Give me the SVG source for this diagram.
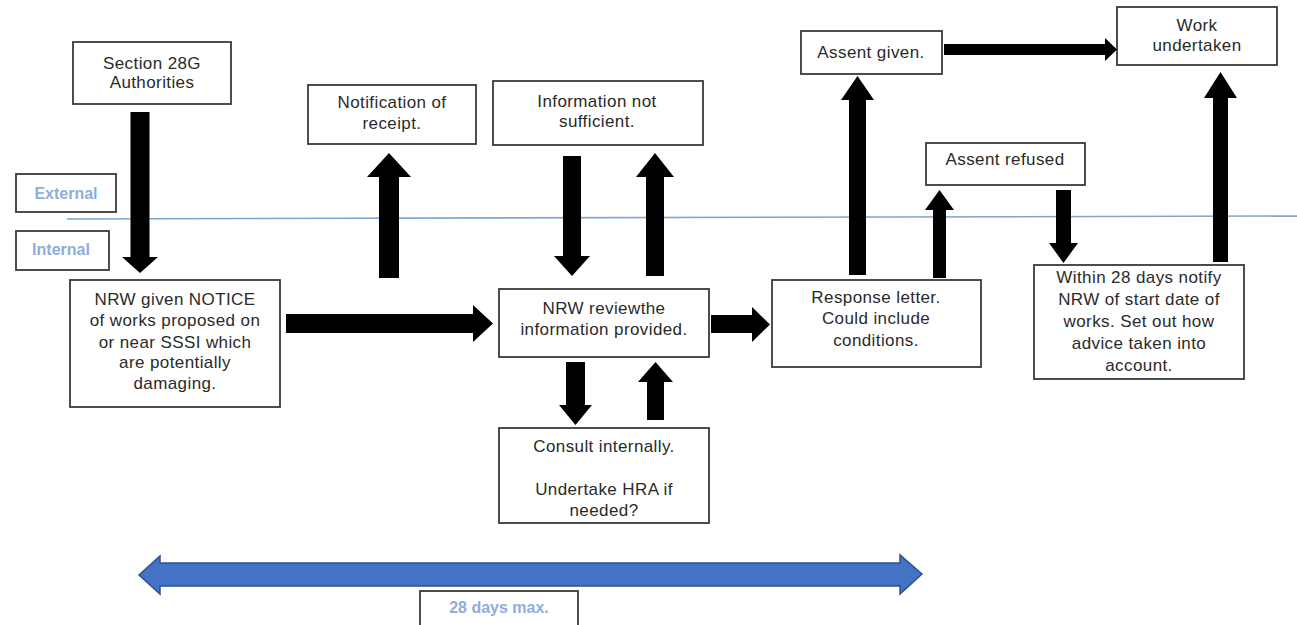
<svg xmlns="http://www.w3.org/2000/svg" width="1297" height="625" viewBox="0 0 1297 625">
<style>
.box{fill:#fff;stroke:#3a3a3a;stroke-width:1.8}
.t{font-family:"Liberation Sans",Arial,sans-serif;font-size:17px;fill:#2a2a2a;text-anchor:middle;letter-spacing:0.4px}
.lab{font-family:"Liberation Sans",Arial,sans-serif;font-size:16px;font-weight:bold;fill:#8eaedb;text-anchor:middle}
.arr{fill:#000}
</style>
<rect width="1297" height="625" fill="#fff"/>
<line x1="67" y1="219" x2="1297" y2="216" stroke="#7ea6d3" stroke-width="1.6"/>
<g id="external"><rect class="box" x="16" y="174" width="100" height="38"/><text class="lab" x="66" y="199">External</text></g>
<g id="internal"><rect class="box" x="16" y="231" width="93" height="39"/><text class="lab" x="61" y="255">Internal</text></g>
<g id="section28g"><rect class="box" x="73" y="42" width="158" height="62"/><text class="t" x="152" y="69">Section 28G</text><text class="t" x="152" y="88">Authorities</text></g>
<g id="notification"><rect class="box" x="308" y="85" width="168" height="59"/><text class="t" x="392" y="108">Notification of</text><text class="t" x="392" y="129">receipt.</text></g>
<g id="infonot"><rect class="box" x="493" y="81" width="210" height="64"/><text class="t" x="597" y="107">Information not</text><text class="t" x="597" y="127">sufficient.</text></g>
<g id="assentgiven"><rect class="box" x="801" y="31" width="141" height="43"/><text class="t" x="871" y="58">Assent given.</text></g>
<g id="workundertaken"><rect class="box" x="1117" y="7" width="160" height="58"/><text class="t" x="1197" y="31">Work</text><text class="t" x="1197" y="51">undertaken</text></g>
<g id="assentrefused"><rect class="box" x="926" y="143" width="159" height="42"/><text class="t" x="1005" y="165">Assent refused</text></g>
<g id="notice"><rect class="box" x="70" y="280" width="210" height="127"/><text class="t" x="175" y="305">NRW given NOTICE</text><text class="t" x="175" y="326">of works proposed on</text><text class="t" x="175" y="348">or near SSSI which</text><text class="t" x="175" y="368">are potentially</text><text class="t" x="175" y="389">damaging.</text></g>
<g id="review"><rect class="box" x="499" y="289" width="210" height="68"/><text class="t" x="604" y="314">NRW reviewthe</text><text class="t" x="604" y="335">information provided.</text></g>
<g id="consult"><rect class="box" x="499" y="428" width="210" height="95"/><text class="t" x="604" y="452">Consult internally.</text><text class="t" x="604" y="495">Undertake HRA if</text><text class="t" x="604" y="516">needed?</text></g>
<g id="response"><rect class="box" x="772" y="280" width="209" height="87"/><text class="t" x="876" y="303">Response letter.</text><text class="t" x="876" y="324">Could include</text><text class="t" x="876" y="346">conditions.</text></g>
<g id="within"><rect class="box" x="1034" y="265" width="210" height="114"/><text class="t" x="1139" y="283">Within 28 days notify</text><text class="t" x="1139" y="305">NRW of start date of</text><text class="t" x="1139" y="327">works. Set out how</text><text class="t" x="1139" y="349">advice taken into</text><text class="t" x="1139" y="371">account.</text></g>
<g id="timeline"><polygon points="139,575 160,556 160,563 900,563 900,555 922,574 900,594 900,586 160,586 160,594" fill="#4472c4" stroke="#2f528f" stroke-width="1.5"/><rect class="box" x="420" y="591" width="158" height="40"/><text class="lab" x="499" y="613">28 days max.</text></g>
<g id="connectors">
<polygon class="arr" points="130.5,112 149.5,112 149.5,257 158,257 140,273 122,257 130.5,257"/>
<polygon class="arr" points="379,278 399,278 399,177 411,177 389,153 367,177 379,177"/>
<polygon class="arr" points="286,314 473,314 473,305 493,323.5 473,342 473,333 286,333"/>
<polygon class="arr" points="563,156 581,156 581,256 590,256 572,276 554,256 563,256"/>
<polygon class="arr" points="646,276 664,276 664,177 674,177 655,153 636,177 646,177"/>
<polygon class="arr" points="711,315 752,315 752,307 770,324.5 752,342 752,333 711,333"/>
<polygon class="arr" points="566,362 585,362 585,405 592,405 575.5,425 559,405 566,405"/>
<polygon class="arr" points="647,420 664,420 664,382 673,382 655.5,362 638,382 647,382"/>
<polygon class="arr" points="849,275 866,275 866,100 874,100 857.5,76 841,100 849,100"/>
<polygon class="arr" points="933,278 946,278 946,210 954,210 939.5,190 925,210 933,210"/>
<polygon class="arr" points="1056,190 1071,190 1071,243 1078,243 1063.5,263 1049,243 1056,243"/>
<polygon class="arr" points="1213,262 1228,262 1228,98 1237,98 1220.5,72 1204,98 1213,98"/>
<polygon class="arr" points="944,44 1105,44 1105,38 1117,49.5 1105,61 1105,55 944,55"/>
</g>
</svg>
